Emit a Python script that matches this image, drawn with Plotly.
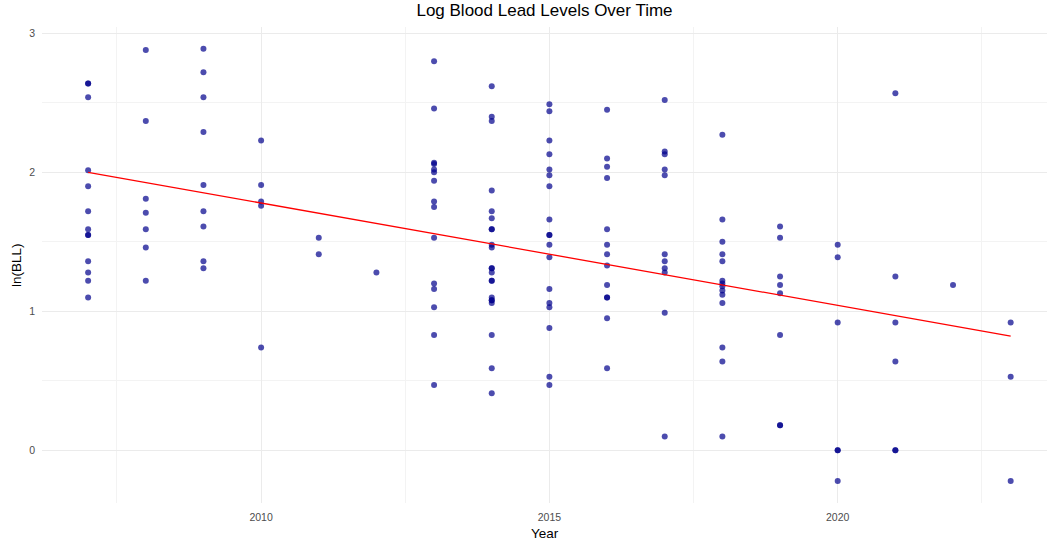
import numpy as np
import plotly.graph_objects as go

# ln(BLL) readings grouped by year
ln_bll_2007 = [2.64, 2.64, 2.54, 2.015, 1.90, 1.72, 1.59, 1.55, 1.55, 1.36, 1.28, 1.22, 1.10]
ln_bll_2008 = [2.88, 2.37, 1.81, 1.71, 1.59, 1.46, 1.22]
ln_bll_2009 = [2.89, 2.72, 2.54, 2.29, 1.91, 1.72, 1.61, 1.36, 1.31]
ln_bll_2010 = [2.23, 1.91, 1.79, 1.76, 0.74]
ln_bll_2011 = [1.53, 1.41]
ln_bll_2012 = [1.28]
ln_bll_2013 = [2.80, 2.46, 2.07, 2.06, 2.02, 2.00, 1.94, 1.79, 1.75, 1.53, 1.20, 1.16, 1.03, 0.83, 0.47]
ln_bll_2014 = [2.62, 2.40, 2.37, 1.87, 1.72, 1.67, 1.59, 1.59, 1.48, 1.46, 1.31, 1.31, 1.28,
               1.22, 1.22, 1.10, 1.08, 1.08, 1.06, 0.83, 0.59, 0.41]
ln_bll_2015 = [2.49, 2.44, 2.23, 2.13, 2.02, 1.98, 1.90, 1.66, 1.55, 1.55, 1.48, 1.39, 1.16,
               1.06, 1.03, 0.88, 0.53, 0.47]
ln_bll_2016 = [2.45, 2.10, 2.04, 1.96, 1.59, 1.48, 1.41, 1.33, 1.19, 1.10, 1.10, 0.95, 0.59]
ln_bll_2017 = [2.52, 2.15, 2.13, 2.02, 1.98, 1.41, 1.36, 1.31, 1.28, 0.99, 0.10]
ln_bll_2018 = [2.27, 1.66, 1.50, 1.41, 1.36, 1.22, 1.20, 1.18, 1.15, 1.12, 1.06, 0.74, 0.64, 0.10]
ln_bll_2019 = [1.61, 1.53, 1.25, 1.19, 1.13, 0.83, 0.18, 0.18]
ln_bll_2020 = [1.48, 1.39, 0.92, 0.0, 0.0, -0.22]
ln_bll_2021 = [2.57, 1.25, 0.92, 0.64, 0.0, 0.0]
ln_bll_2022 = [1.19]
ln_bll_2023 = [0.92, 0.53, -0.22]

years = list(range(2007, 2024))
groups = [ln_bll_2007, ln_bll_2008, ln_bll_2009, ln_bll_2010, ln_bll_2011, ln_bll_2012,
          ln_bll_2013, ln_bll_2014, ln_bll_2015, ln_bll_2016, ln_bll_2017, ln_bll_2018,
          ln_bll_2019, ln_bll_2020, ln_bll_2021, ln_bll_2022, ln_bll_2023]

x_ticks = [2010, 2015, 2020]
y_ticks = [0, 1, 2, 3]

year = []
ln_bll = []
for yr, vals in zip(years, groups):
    year += [yr] * len(vals)
    ln_bll += vals
year = np.array(year, dtype=float)
ln_bll = np.array(ln_bll, dtype=float)

# linear fit (geom_smooth(method = "lm", se = FALSE))
slope, intercept = np.polyfit(year, ln_bll, 1)
fit_x = np.array([year.min(), year.max()])
fit_y = intercept + slope * fit_x

font_family = "Liberation Sans, Arial, sans-serif"

fig = go.Figure()
fig.add_trace(go.Scatter(
    x=year, y=ln_bll, mode="markers",
    marker=dict(size=6, color="rgba(0,0,139,0.7)", line=dict(width=0)),
    showlegend=False, hoverinfo="x+y",
))
fig.add_trace(go.Scatter(
    x=fit_x, y=fit_y, mode="lines",
    line=dict(color="red", width=1.3),
    showlegend=False,
))

axis_common = dict(
    showline=False, zeroline=False, ticks="",
    gridcolor="#EBEBEB", gridwidth=1.4,
    tickfont=dict(family=font_family, size=10.5, color="#4D4D4D"),
)

fig.update_layout(
    width=1047, height=546,
    margin=dict(l=42, r=0, t=27, b=43),
    paper_bgcolor="white", plot_bgcolor="white",
    font=dict(family=font_family),
    title=dict(text="Log Blood Lead Levels Over Time", x=0.5, xref="paper",
               y=0.981, yref="container", yanchor="middle", xanchor="center",
               font=dict(size=17, color="black", family=font_family)),
    xaxis=dict(range=[2006.2, 2023.63], tickvals=x_ticks,
               ticktext=[str(v) for v in x_ticks], ticklabelstandoff=6,
               minor=dict(tickvals=[2007.5, 2012.5, 2017.5, 2022.5], showgrid=True,
                          gridcolor="#F3F3F3", gridwidth=0.8, ticks=""),
               **axis_common),
    yaxis=dict(range=[-0.379, 3.046], tickvals=y_ticks,
               ticktext=[str(v) for v in y_ticks], ticklabelstandoff=6,
               minor=dict(tickvals=[0.5, 1.5, 2.5], showgrid=True,
                          gridcolor="#F3F3F3", gridwidth=0.8, ticks=""),
               **axis_common),
    annotations=[
        dict(text="Year", xref="paper", yref="paper", x=0.5, y=-0.0651,
             xanchor="center", yanchor="middle", showarrow=False,
             font=dict(size=13.5, color="black", family=font_family)),
        dict(text="ln(BLL)", xref="paper", yref="paper", x=-0.0259, y=0.5,
             xanchor="center", yanchor="middle", textangle=-90, showarrow=False,
             font=dict(size=13.5, color="black", family=font_family)),
    ],
)

fig.write_html("out.html")
